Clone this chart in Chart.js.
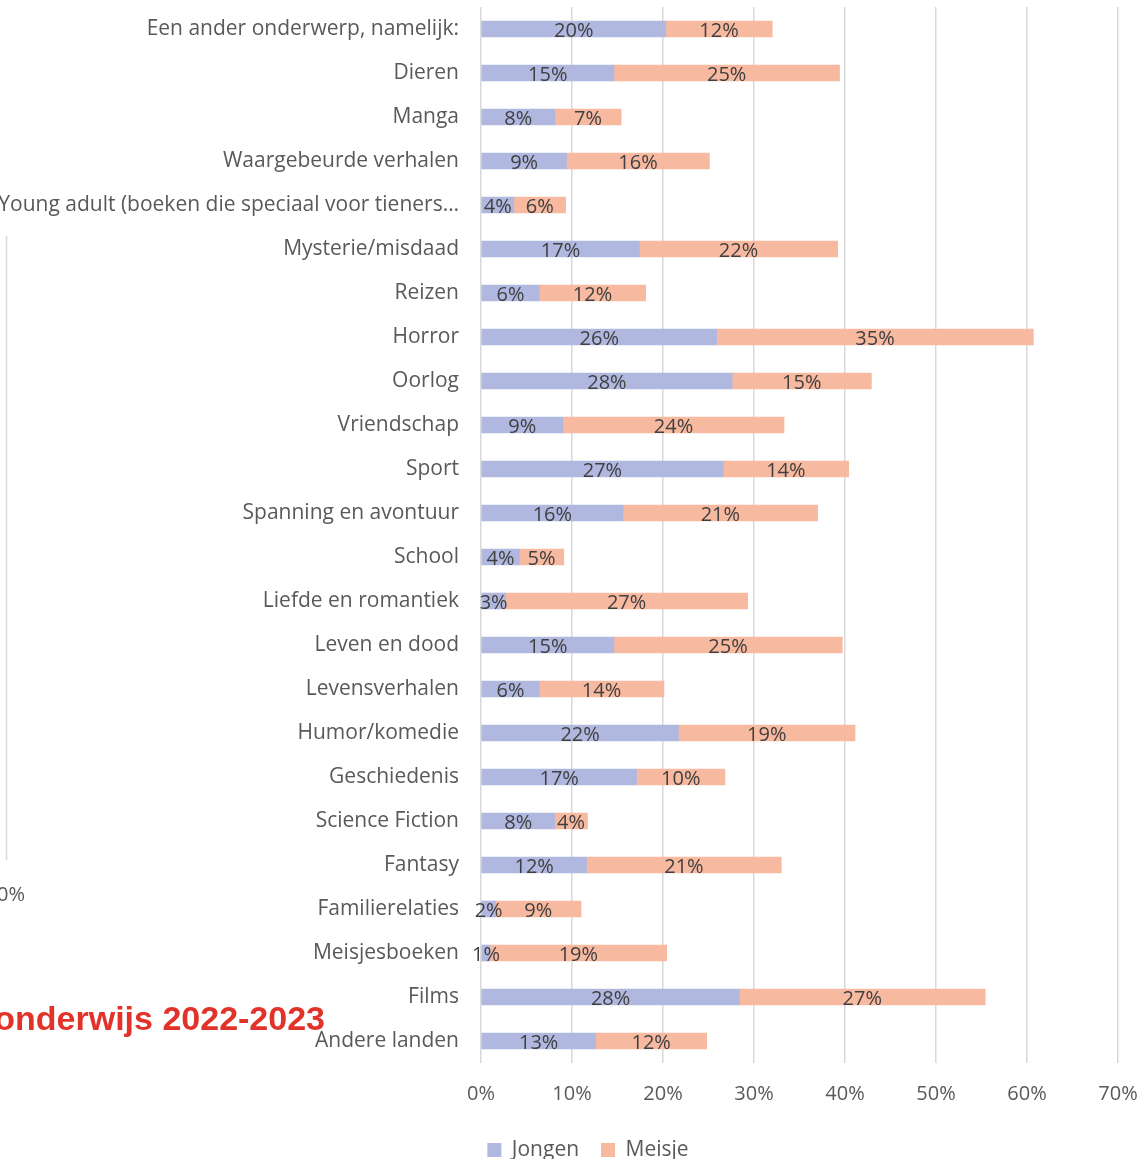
<!DOCTYPE html>
<html>
<head>
<meta charset="utf-8">
<script src="https://cdn.jsdelivr.net/npm/chart.js@4/dist/chart.umd.min.js"></script>
<style>
  html, body { margin: 0; padding: 0; background: #fff; }
  #wrap { width: 1143px; height: 1159px; position: relative; }
</style>
</head>
<body>
<div id="wrap"><canvas id="chart"></canvas></div>
<script>
const categories = [
  'Een ander onderwerp, namelijk:', 'Dieren', 'Manga', 'Waargebeurde verhalen',
  'Young adult (boeken die speciaal voor tieners…', 'Mysterie/misdaad', 'Reizen', 'Horror',
  'Oorlog', 'Vriendschap', 'Sport', 'Spanning en avontuur', 'School', 'Liefde en romantiek',
  'Leven en dood', 'Levensverhalen', 'Humor/komedie', 'Geschiedenis', 'Science Fiction',
  'Fantasy', 'Familierelaties', 'Meisjesboeken', 'Films', 'Andere landen'
];
const jongen = [20.3, 14.6, 8.1, 9.4, 3.6, 17.4, 6.4, 25.9, 27.6, 9.0, 26.6, 15.6, 4.2, 2.7,
  14.6, 6.4, 21.7, 17.1, 8.1, 11.6, 1.6, 1.0, 28.4, 12.6];
const meisje = [11.7, 24.8, 7.3, 15.7, 5.7, 21.8, 11.7, 34.8, 15.3, 24.3, 13.8, 21.4, 4.9, 26.6,
  25.1, 13.7, 19.4, 9.7, 3.6, 21.4, 9.4, 19.4, 27.0, 12.2];
const xTicks = [0, 10, 20, 30, 40, 50, 60, 70];

const FONT = "'Open Sans', 'DejaVu Sans', sans-serif";

// percentage labels in the middle of every segment
const segmentLabels = {
  id: 'segmentLabels',
  afterDatasetsDraw(chart) {
    const ctx = chart.ctx;
    ctx.save();
    ctx.font = '20px ' + FONT;
    ctx.fillStyle = '#404040';
    ctx.textAlign = 'center';
    ctx.textBaseline = 'middle';
    chart.data.datasets.forEach((ds, i) => {
      chart.getDatasetMeta(i).data.forEach((bar, j) => {
        const p = bar.getProps(['x', 'y', 'base'], true);
        ctx.fillText(Math.round(ds.data[j]) + '%', (p.x + p.base) / 2, p.y + 2);
      });
    });
    ctx.restore();
  }
};

// legend sits a bit right of the canvas centre in the original
const legendShift = {
  id: 'legendShift',
  afterLayout(chart) {
    chart.legend.left += 29;
    chart.legend.right += 29;
  }
};

// remnants of the neighbouring chart visible at the left edge
const leftovers = {
  id: 'leftovers',
  afterDraw(chart) {
    const ctx = chart.ctx;
    ctx.save();
    ctx.strokeStyle = '#d9d9d9';
    ctx.lineWidth = 1.5;
    ctx.beginPath();
    ctx.moveTo(6.5, 236);
    ctx.lineTo(6.5, 860);
    ctx.stroke();
    ctx.fillStyle = '#595959';
    ctx.font = '20px ' + FONT;
    ctx.textAlign = 'left';
    ctx.textBaseline = 'middle';
    ctx.fillText('0%', -3, 895);
    ctx.fillStyle = '#e2332a';
    ctx.font = "bold 34px 'Liberation Sans', Arial, sans-serif";
    ctx.textAlign = 'right';
    ctx.textBaseline = 'alphabetic';
    ctx.fillText('onderwijs 2022-2023', 325, 1030);
    ctx.restore();
  }
};

new Chart(document.getElementById('chart'), {
  type: 'bar',
  data: {
    labels: categories,
    datasets: [
      { label: 'Jongen', data: jongen, backgroundColor: '#b1b8e0', barThickness: 16 },
      { label: 'Meisje', data: meisje, backgroundColor: '#f7b9a0', barThickness: 16 }
    ]
  },
  options: {
    indexAxis: 'y',
    responsive: true,
    maintainAspectRatio: false,
    animation: false,
    layout: { padding: { top: 7, right: 25, bottom: -11.5, left: 0 } },
    scales: {
      x: {
        stacked: true,
        min: 0,
        max: 70,
        afterBuildTicks: axis => { axis.ticks = xTicks.map(v => ({ value: v })); },
        afterFit: axis => { axis.height = 54.5; axis.paddingLeft = 0; axis.paddingRight = 0; },
        grid: { color: '#d9d9d9', lineWidth: 1.5, drawTicks: false },
        border: { display: false },
        ticks: {
          padding: 19,
          color: '#595959',
          font: { family: FONT, size: 20 },
          callback: v => v + '%'
        }
      },
      y: {
        stacked: true,
        afterFit: axis => { axis.width = 481; axis.paddingTop = 0; axis.paddingBottom = 0; },
        grid: { display: false, drawTicks: false },
        border: { display: false },
        ticks: {
          padding: 22,
          color: '#595959',
          font: { family: FONT, size: 21 },
          autoSkip: false
        }
      }
    },
    plugins: {
      legend: {
        position: 'bottom',
        labels: {
          boxWidth: 14,
          boxHeight: 14,
          padding: 22,
          color: '#595959',
          font: { family: FONT, size: 21, lineHeight: 1 }
        }
      },
      tooltip: { enabled: false }
    }
  },
  plugins: [segmentLabels, legendShift, leftovers]
});
</script>
</body>
</html>
